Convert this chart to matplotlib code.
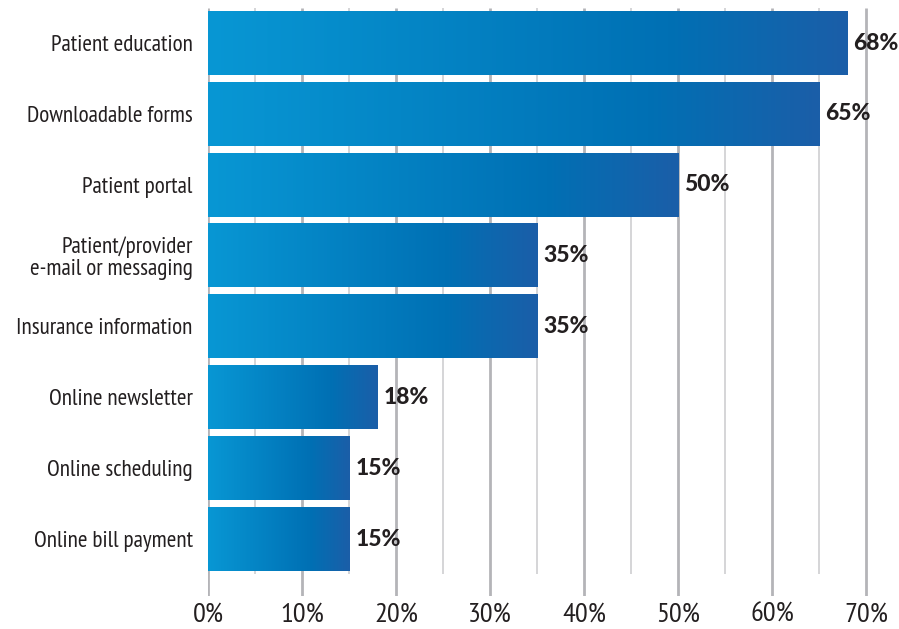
import matplotlib
matplotlib.use('Agg')
import matplotlib.pyplot as plt
import numpy as np
from matplotlib.colors import LinearSegmentedColormap

features = ["Patient education", "Downloadable forms", "Patient portal",
            "Patient/provider\ne-mail or messaging", "Insurance information",
            "Online newsletter", "Online scheduling", "Online bill payment"]
percents = [68, 65, 50, 35, 35, 18, 15, 15]
xticks = [0, 10, 20, 30, 40, 50, 60, 70]

label_font = ["PT Sans Narrow", "DejaVu Sans"]
value_font = ["Lato", "DejaVu Sans"]
ink = "#231f20"

# bar fill: light cyan-blue on the left, deep blue on the right
bar_cmap = LinearSegmentedColormap.from_list(
    "bar", [(0.0, "#0897d4"), (0.72, "#0070b4"), (1.0, "#1b5ea8")])

fig = plt.figure(figsize=(8.99, 6.29), dpi=100)
ax = fig.add_axes([208/899, 33/629, 691/899, 588/629])

ytop, ybot, ybot_minor = -0.494, 7.804, 7.494

# vertical grid: darker lines every 10%, lighter ones in between
for x in np.arange(5, 70, 10):
    ax.vlines(x, ytop, ybot_minor, color="#d2d2d4", lw=1.3, zorder=0)
for x in xticks:
    ax.vlines(x, ytop, ybot, color="#b4b4b8", lw=2.0, zorder=0)

pos = np.arange(len(features))
bars = ax.barh(pos, percents, height=0.9, color="none", zorder=2)
grad = np.linspace(0, 1, 256).reshape(1, -1)
for b, v in zip(bars, percents):
    x0, y0 = b.get_x(), b.get_y()
    w, h = b.get_width(), b.get_height()
    ax.imshow(grad, cmap=bar_cmap, aspect="auto", zorder=2,
              extent=(x0, x0 + w, y0 + h, y0), interpolation="bilinear")
    ax.annotate("%d%%" % v, (v, y0 + h / 2), xytext=(4.5, 0),
                textcoords="offset points", va="center", ha="left",
                fontsize=16.5, fontweight=900, family=value_font,
                color=ink, zorder=3)
ax.set_ylim(ybot, ytop)
ax.set_xlim(0, 73.5)

ax.set_yticks(pos)
ax.set_yticklabels(features, family=label_font, fontsize=16.7,
                   color=ink, linespacing=1.05)
ax.set_xticks(xticks)
ax.set_xticklabels(["%d%%" % t for t in xticks], family=label_font,
                   fontsize=20.5, color=ink)
ax.tick_params(axis="both", length=0)
ax.tick_params(axis="y", pad=11)
ax.tick_params(axis="x", pad=5)
for s in ax.spines.values():
    s.set_visible(False)

fig.savefig("out.png", dpi=100)
